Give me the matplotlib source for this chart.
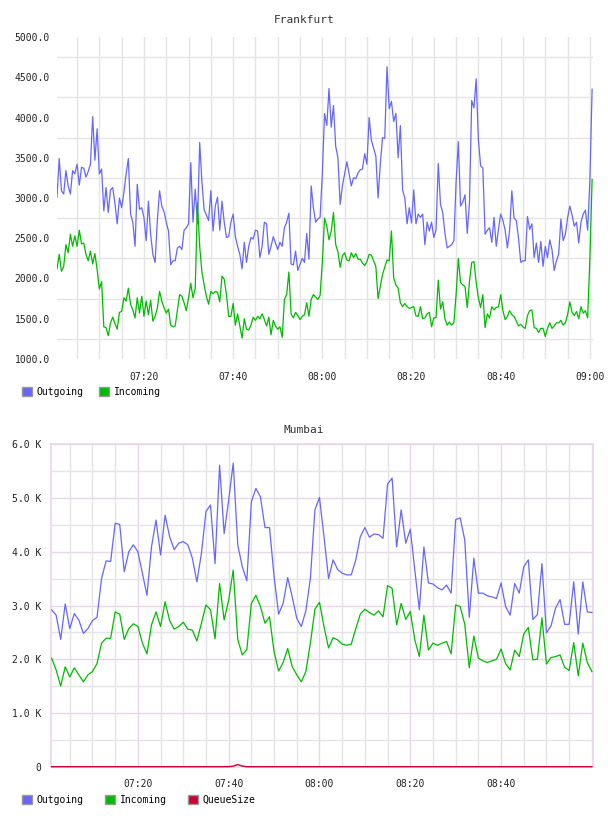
import matplotlib.pyplot as plt
import numpy as np
from matplotlib.patches import Patch
from matplotlib.ticker import MultipleLocator

plt.rcParams['font.family'] = ['DejaVu Sans Mono', 'DejaVu Sans']

# ---- Frankfurt: one sample every 30 s, minutes after 07:00 ----
fra_step = 0.5
fra_out = [
    3530, 3010, 3490, 3090, 3050, 3340, 3150, 3050, 3340, 3300,
    3420, 3160, 3380, 3370, 3260, 3330, 3420, 4010, 3470, 3860,
    3300, 3360, 2840, 3130, 2820, 3100, 3130, 2930, 2680, 3000,
    2880, 3070, 3300, 3490, 2800, 2700, 2400, 3170, 2860, 2880,
    2760, 2470, 2960, 2550, 2300, 2200, 2720, 3090, 2900, 2830,
    2700, 2590, 2170, 2220, 2220, 2380, 2400, 2360, 2600, 2630,
    2680, 3440, 2700, 3110, 2680, 3690, 3200, 2850, 2790, 2720,
    3090, 2590, 2900, 3010, 2600, 2960, 2700, 2510, 2520, 2700,
    2800, 2520, 2400, 2300, 2120, 2450, 2200, 2400, 2510, 2490,
    2600, 2590, 2260, 2400, 2700, 2680, 2300,
    2400, 2520, 2440, 2360, 2450, 2400, 2630, 2700, 2810, 2180,
    2170, 2340, 2100, 2175, 2250, 2200, 2560, 2240, 3150, 2880,
    2700, 2740, 2760, 3300, 4050, 3900, 4360, 3880, 4150, 3640,
    3500, 2920, 3150, 3300, 3450, 3300, 3150, 3250, 3240, 3310,
    3350, 3360, 3550, 3420, 4000, 3720, 3620, 3520,
    3000, 3420, 3750, 3740, 4630, 4110, 4200, 3950, 4050, 3500,
    3900, 3100, 3000, 2680, 2880, 2690, 3100, 2680, 2800, 2760,
    2800, 2420, 2700, 2590, 2700, 2510, 2600, 3430, 2920, 2820,
    2560, 2380, 2400, 2420, 2470, 3200, 3700, 2900, 2950, 3040,
    2560, 2950, 4210, 4120, 4480, 3720,
    3400, 3370, 2550, 2600, 2630, 2450, 2760, 2400, 2610, 2800,
    2720, 2600, 2380, 2600, 3090, 2750, 2720, 2500, 2200, 2220,
    2220, 2770, 2610, 2680, 2260, 2440, 2200, 2460, 2150, 2400,
    2260, 2480, 2360, 2100, 2220, 2300, 2740, 2470, 2550, 2750,
    2900, 2790, 2650, 2700, 2440, 2700, 2800, 2850, 2600, 3220,
    4350,
]
fra_in = [
    2240, 2120, 2300, 2090, 2150, 2420, 2320, 2550, 2400, 2530,
    2400, 2600, 2430, 2440, 2300, 2220, 2340, 2180, 2310, 2110,
    1870, 1960, 1400, 1390, 1290, 1450, 1520, 1440, 1370, 1580,
    1590, 1760, 1720, 1880, 1680, 1610, 1510, 1760, 1570, 1780,
    1530, 1720, 1550, 1730, 1470, 1530, 1630, 1840, 1720, 1640,
    1570, 1620, 1420, 1400, 1410, 1610, 1800, 1780, 1700, 1600,
    1760, 1940, 1760, 1880, 2940, 2400, 2080, 1920, 1780, 1680,
    1840, 1810, 1840, 1830, 1710, 2030, 1990, 1800, 1530, 1530,
    1690, 1420, 1560, 1410, 1260, 1500, 1370, 1360, 1420, 1520,
    1480, 1530, 1500, 1560, 1490, 1410, 1520,
    1300, 1480, 1410, 1370, 1400, 1270, 1740, 1800, 2080, 1560,
    1510, 1580, 1540, 1490, 1530, 1550, 1700, 1530, 1740, 1800,
    1770, 1740, 1790, 2200, 2750, 2650, 2480, 2590, 2820, 2420,
    2330, 2140, 2280, 2320, 2230, 2220, 2320, 2260, 2310, 2240,
    2240, 2190, 2160, 2210, 2300, 2290, 2220, 2150,
    1750, 1900, 2050, 2140, 2230, 2220, 2590, 2010, 1920, 1880,
    1700, 1650, 1690, 1650, 1630, 1640, 1650, 1535, 1530, 1650,
    1500, 1510, 1560, 1580, 1400, 1510, 1515, 1980, 1620, 1710,
    1500, 1420, 1460, 1420, 1450, 1800, 2250, 1950, 1920, 1900,
    1640, 1960, 2200, 2210, 1950, 1760,
    1640, 1800, 1390, 1560, 1510, 1650, 1610, 1640, 1650, 1800,
    1600, 1490, 1530, 1600, 1550, 1530, 1470, 1410, 1430, 1400,
    1380, 1540, 1600, 1610, 1390, 1380, 1330, 1380, 1380, 1280,
    1380, 1450, 1380, 1410, 1450, 1450, 1480, 1420, 1450, 1550,
    1710, 1580, 1540, 1590, 1500, 1650, 1570, 1600, 1510, 2250,
    3230,
]

# ---- Mumbai: one sample per minute from 07:01 (values in K) ----
mum_start = 1
mum_out = [
    2.92, 2.82, 2.37, 3.03, 2.57, 2.85, 2.73, 2.48, 2.57, 2.72,
    2.78, 3.50, 3.83, 3.82, 4.53, 4.51, 3.63, 4.00, 4.13, 4.00,
    3.60, 3.19, 4.09, 4.59, 3.94, 4.68, 4.28, 4.04, 4.16, 4.19,
    4.13, 3.88, 3.44, 3.97, 4.75, 4.87, 3.78, 5.61, 4.34, 4.96,
    5.65, 4.13, 3.72, 3.46, 4.93, 5.18, 5.02, 4.45, 4.45, 3.54,
    2.84, 3.04, 3.52, 3.16, 2.76, 2.61, 2.90, 3.50, 4.78, 5.01,
    4.28, 3.50, 3.85, 3.67, 3.60, 3.57, 3.57, 3.85, 4.28, 4.45,
    4.27, 4.33, 4.32, 4.25, 5.26, 5.37, 4.09, 4.78, 4.16, 4.42,
    3.66, 2.92, 4.09, 3.42, 3.40, 3.33, 3.29, 3.38, 3.23, 4.60,
    4.63, 4.22, 2.78, 3.88, 3.23, 3.23, 3.18, 3.16, 3.13, 3.42,
    2.98, 2.82, 3.41, 3.23, 3.72, 3.85, 2.74, 2.83, 3.78, 2.49,
    2.62, 2.95, 3.11, 2.65, 2.65, 3.44, 2.47, 3.44, 2.88, 2.87,
]
mum_in = [
    2.02, 1.80, 1.50, 1.86, 1.67, 1.84, 1.71, 1.58, 1.71, 1.77,
    1.92, 2.30, 2.39, 2.39, 2.88, 2.84, 2.37, 2.57, 2.66, 2.61,
    2.30, 2.10, 2.64, 2.88, 2.61, 3.07, 2.72, 2.56, 2.61, 2.69,
    2.56, 2.54, 2.34, 2.67, 3.01, 2.92, 2.38, 3.41, 2.73, 3.10,
    3.66, 2.37, 2.08, 2.18, 3.04, 3.19, 2.98, 2.67, 2.79, 2.14,
    1.78, 1.94, 2.20, 1.86, 1.71, 1.58, 1.77, 2.30, 2.93, 3.06,
    2.61, 2.21, 2.40, 2.36, 2.28, 2.26, 2.28, 2.57, 2.84, 2.93,
    2.87, 2.82, 2.90, 2.79, 3.37, 3.32, 2.64, 3.04, 2.74, 2.89,
    2.36, 2.05, 2.82, 2.17, 2.30, 2.26, 2.30, 2.33, 2.10, 3.01,
    2.98, 2.65, 1.84, 2.43, 2.02, 1.97, 1.94, 1.97, 2.00, 2.19,
    1.92, 1.80, 2.17, 2.05, 2.47, 2.59, 1.99, 2.00, 2.77, 1.91,
    2.03, 2.05, 2.08, 1.85, 1.79, 2.31, 1.69, 2.30, 1.94, 1.77,
]
mum_queue = [0] * 40 + [10, 40, 12] + [0] * 77

time_ticks = [20, 40, 60, 80, 100, 120]
time_labels = ['07:20', '07:40', '08:00', '08:20', '08:40', '09:00']
fra_yticks = [1000, 1500, 2000, 2500, 3000, 3500, 4000, 4500, 5000]
mum_yticks = [0, 1000, 2000, 3000, 4000, 5000, 6000]
mum_ylabels = ['0', '1.0 K', '2.0 K', '3.0 K', '4.0 K', '5.0 K', '6.0 K']

c_out, c_in, c_queue = '#6666ff', '#00bb00', '#cc0033'
grey, pink = '#e4e4e4', '#ead6ea'

fra_t = np.arange(len(fra_out)) * fra_step
mum_t = np.arange(len(mum_out)) + mum_start

fig = plt.figure(figsize=(6.08, 8.16), dpi=100)

# ---------------- Frankfurt ----------------
ax1 = fig.add_axes([57 / 608, 1 - 359 / 816, 536 / 608, 322 / 816])
ax1.plot(fra_t, fra_out, color=c_out, lw=0.9, zorder=3)
ax1.plot(fra_t, fra_in, color=c_in, lw=0.9, zorder=3)
ax1.set_xlim(0.5, 120.7)
ax1.set_ylim(1000, 5000)
ax1.set_xticks(time_ticks, time_labels)
ax1.xaxis.set_minor_locator(MultipleLocator(5))
ax1.set_yticks(fra_yticks, ['%.1f' % v for v in fra_yticks])
ax1.yaxis.set_minor_locator(MultipleLocator(500, offset=250))
ax1.grid(True, which='both', axis='x', color=grey, lw=1.0)
ax1.grid(True, which='minor', axis='y', color=grey, lw=1.0)
ax1.set_axisbelow(True)
for s in ax1.spines.values():
    s.set_visible(False)
ax1.tick_params(which='both', length=0, labelsize=7, colors='#222222')
ax1.tick_params(axis='y', pad=5)
ax1.tick_params(axis='x', pad=9)

fig.text(0.5, 1 - 20 / 816, 'Frankfurt', ha='center', va='center',
         fontsize=8, color='#333333')
fig.legend([Patch(facecolor=c_out, edgecolor='#999999'),
            Patch(facecolor=c_in, edgecolor='#999999')],
           ['Outgoing', 'Incoming'], loc='center left',
           bbox_to_anchor=(22 / 608, 1 - 392 / 816), ncol=2, frameon=False,
           fontsize=7, handlelength=1.0, handleheight=1.0,
           handletextpad=0.5, columnspacing=1.6, borderpad=0,
           borderaxespad=0)

# ---------------- Mumbai ----------------
ax2 = fig.add_axes([50.7 / 608, 1 - 766.7 / 816, 542.3 / 608, 322.4 / 816])
ax2.plot(mum_t, np.array(mum_out) * 1000, color=c_out, lw=0.9, zorder=3)
ax2.plot(mum_t, np.array(mum_in) * 1000, color=c_in, lw=0.9, zorder=3)
ax2.plot(mum_t, mum_queue, color=c_queue, lw=1.0, zorder=4, clip_on=False)
ax2.set_xlim(0.8, 120.25)
ax2.set_ylim(0, 6000)
ax2.set_xticks(time_ticks[:-1], time_labels[:-1])
ax2.xaxis.set_minor_locator(MultipleLocator(5))
ax2.set_yticks(mum_yticks, mum_ylabels)
ax2.yaxis.set_minor_locator(MultipleLocator(500))
ax2.grid(True, which='minor', color=grey, lw=1.0)
ax2.grid(True, which='major', color=pink, lw=1.0)
ax2.set_axisbelow(True)
for s in ax2.spines.values():
    s.set_color(pink)
    s.set_linewidth(1.2)
ax2.tick_params(which='both', length=0, labelsize=7, colors='#222222')
ax2.tick_params(axis='y', pad=7)
ax2.tick_params(axis='x', pad=9)

fig.text(0.5, 1 - 430 / 816, 'Mumbai', ha='center', va='center',
         fontsize=8, color='#333333')
fig.legend([Patch(facecolor=c_out, edgecolor='#999999'),
            Patch(facecolor=c_in, edgecolor='#999999'),
            Patch(facecolor=c_queue, edgecolor='#999999')],
           ['Outgoing', 'Incoming', 'QueueSize'], loc='center left',
           bbox_to_anchor=(22 / 608, 1 - 800 / 816), ncol=3, frameon=False,
           fontsize=7, handlelength=1.0, handleheight=1.0,
           handletextpad=0.5, columnspacing=2.2, borderpad=0,
           borderaxespad=0)

fig.savefig('out.png', dpi=100, facecolor='white')
